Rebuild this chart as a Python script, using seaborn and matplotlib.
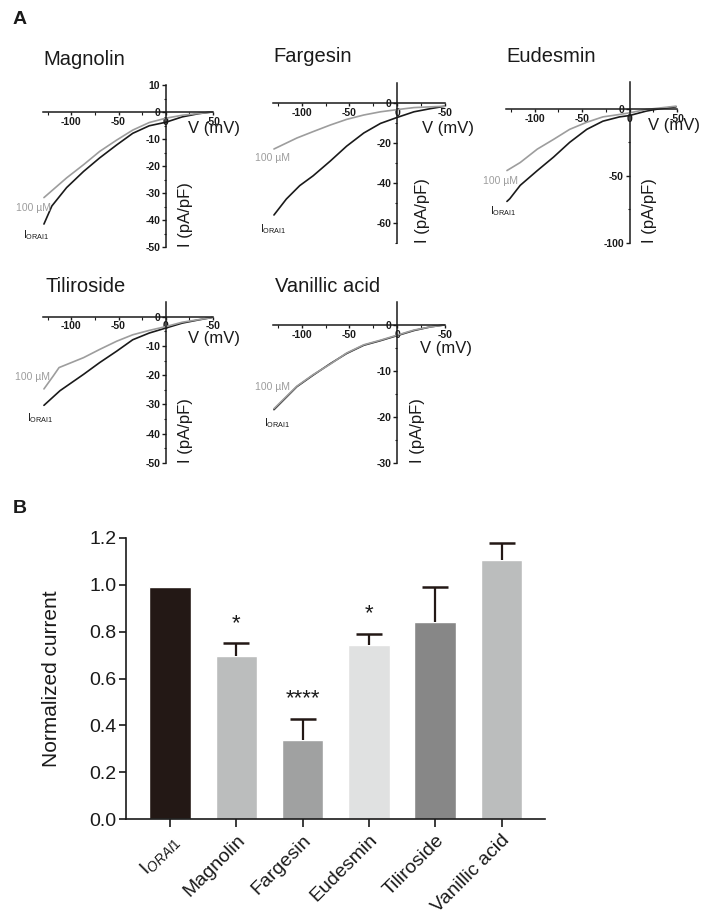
import numpy as np
import pandas as pd
import matplotlib
matplotlib.use('Agg')
import matplotlib.pyplot as plt
import matplotlib.transforms as mtransforms
from matplotlib.ticker import FixedLocator
import seaborn as sns

sns.set_style('ticks')
plt.rcParams['font.family'] = ['Liberation Sans', 'DejaVu Sans']
plt.rcParams['mathtext.fontset'] = 'custom'
plt.rcParams['mathtext.rm'] = 'Liberation Sans'
plt.rcParams['mathtext.it'] = 'Liberation Sans:italic'
plt.rcParams['mathtext.bf'] = 'Liberation Sans:bold'

# ---------------- data: panel A (I-V curves) ----------------
iv_xticks = [-100, -50, 0, 50]
iv_xticklabels = ['-100', '-50', '0', '-50']

mag_V_ctrl = [-129, -120.6, -105, -87, -70, -52, -35, -17.5, 0, 17.5, 35, 49]
mag_I_ctrl = [-41.5, -34.8, -28, -22, -17, -12.2, -7.9, -5.1, -3.8, -1.8, -0.6, 0]
mag_V_drug = [-129, -105, -87, -70, -52, -35, -17.5, 0, 17.5, 49]
mag_I_drug = [-31.7, -24.4, -19.5, -14.6, -10.4, -6.7, -3.9, -2.3, -1.2, 0]

far_V_ctrl = [-129, -116, -102, -88, -70, -53, -35, -17.5, 0, 17.5, 35, 50]
far_I_ctrl = [-56, -48, -41.3, -36.4, -29, -21.6, -15, -10.2, -7.2, -4.4, -2.8, -1.6]
far_V_drug = [-129, -105, -88, -70, -53, -35, -17.5, 0, 17.5, 50]
far_I_drug = [-23, -17.5, -14.3, -11, -8.2, -6, -4.4, -3.3, -2.3, -1.6]

eud_V_ctrl = [-129, -126, -115, -97, -80, -63, -45, -28, -10.5, 0, 17.5, 31, 49]
eud_I_ctrl = [-69, -67, -57, -46, -36, -25, -15.3, -9.2, -6, -5, -1.7, 0, 1.5]
eud_V_drug = [-129, -115, -97, -80, -63, -45, -28, -10.5, 0, 17.5, 49]
eud_I_drug = [-46, -40, -30, -22.8, -15.3, -10, -6, -4.2, -3, -0.5, 2]

til_V_ctrl = [-129, -112, -87, -70, -52, -35, -17.5, 0, 17.5, 35, 49]
til_I_ctrl = [-30.3, -25.3, -19.7, -15.7, -11.8, -7.9, -5.6, -3.9, -2.2, -1.1, -0.3]
til_V_drug = [-129, -119, -113, -87, -70, -52, -35, -17.5, 0, 17.5, 49]
til_I_drug = [-24.7, -20.2, -17.4, -14, -11.2, -8.4, -6.2, -4.7, -3.4, -1.9, -0.3]

van_V_ctrl = [-129, -105, -88, -70, -53, -35, -17.5, 0, 17.5, 35, 49]
van_I_ctrl = [-18.4, -13.4, -10.9, -8.4, -6.2, -4.4, -3.4, -2.3, -1.2, -0.4, 0]
van_V_drug = [-129, -105, -88, -70, -53, -35, -17.5, 0, 17.5, 35, 49]
van_I_drug = [-18.2, -13.3, -10.8, -8.5, -6.1, -4.3, -3.3, -2.2, -1.1, -0.4, 0]

iv_titles = ['Magnolin', 'Fargesin', 'Eudesmin', 'Tiliroside', 'Vanillic acid']
drug_label = '100 µM'
ctrl_label = r'I$_{\mathrm{ORAI1}}$'

# ---------------- data: panel B (bars) ----------------
bar_categories = [r'I$_{\mathit{ORAI1}}$', 'Magnolin', 'Fargesin', 'Eudesmin',
                  'Tiliroside', 'Vanillic acid']
bar_values = [0.99, 0.695, 0.338, 0.745, 0.843, 1.105]
bar_err_upper = [0.0, 0.055, 0.09, 0.047, 0.148, 0.075]
bar_stars = ['', '*', '****', '*', '', '']
bar_colors = ['#231815', '#BBBDBD', '#A0A1A1', '#E0E1E1', '#878787', '#BBBDBD']

# ---------------- figure ----------------
W, H = 703, 919
fig = plt.figure(figsize=(W / 100, H / 100), dpi=100)


def px_axes(x0, x1, ytop, ybot):
    return fig.add_axes([x0 / W, 1 - ybot / H, (x1 - x0) / W, (ybot - ytop) / H])


ink = '#1a1a1a'
gray = '#9d9d9d'


def iv_panel(rect, ylim, yticks, yminor, Vc, Ic, Vd, Id, title, title_xy,
             vlab_frac, vlab_dy, ilab_dx, drug_off, ctrl_off):
    ax = px_axes(*rect)
    sns.lineplot(x=Vc, y=Ic, ax=ax, color=ink, lw=1.2, sort=False, estimator=None)
    sns.lineplot(x=Vd, y=Id, ax=ax, color=gray, lw=1.2, sort=False, estimator=None)
    ax.set_xlim(-130, 50)
    ax.set_ylim(*ylim)
    ax.set_facecolor('none')
    for s in ['top', 'right']:
        ax.spines[s].set_visible(False)
    for s in ['left', 'bottom']:
        ax.spines[s].set_position(('data', 0))
        ax.spines[s].set_linewidth(1.1)
        ax.spines[s].set_color(ink)
    ax.set_xticks(iv_xticks)
    ax.set_xticklabels(iv_xticklabels, fontsize=7.5, fontweight='bold', color=ink)
    ax.set_yticks(yticks)
    ax.set_yticklabels([str(t) for t in yticks], fontsize=7.5, fontweight='bold', color=ink)
    ax.xaxis.set_minor_locator(FixedLocator([-125, -75, -25, 25]))
    ax.yaxis.set_minor_locator(FixedLocator(yminor))
    ax.tick_params(axis='x', which='major', length=2.5, width=1, pad=1, color=ink)
    ax.tick_params(axis='y', which='major', length=3, width=1, pad=1, color=ink)
    ax.tick_params(which='minor', length=1.8, width=0.8, color=ink)
    ax.set_xlabel('')
    ax.set_ylabel('')
    # curve labels
    ax.annotate(drug_label, xy=(Vd[0], Id[0]), xytext=drug_off, textcoords='offset pixels',
                ha='center', va='center', color=gray, fontsize=7.5)
    ax.annotate(ctrl_label, xy=(Vc[0], Ic[0]), xytext=ctrl_off, textcoords='offset pixels',
                ha='center', va='center', color=ink, fontsize=7.5)
    # axis labels
    trx = mtransforms.blended_transform_factory(ax.transAxes, ax.transData)
    ax.annotate('V (mV)', xy=(vlab_frac, 0), xycoords=trx, xytext=(0, -vlab_dy),
                textcoords='offset pixels', ha='left', va='center', fontsize=12, color=ink)
    tri = mtransforms.blended_transform_factory(ax.transData, ax.transAxes)
    ax.annotate('I (pA/pF)', xy=(0, 0), xycoords=tri, xytext=(ilab_dx, 0),
                textcoords='offset pixels', ha='center', va='bottom', rotation=90,
                fontsize=12, color=ink)
    fig.text(title_xy[0] / W, 1 - title_xy[1] / H, title, fontsize=14.5, color=ink,
             va='baseline', ha='left')
    return ax


iv_panel((43, 213, 85, 247), (-50, 10), [10, 0, -10, -20, -30, -40, -50],
         [5, -5, -15, -25, -35, -45], mag_V_ctrl, mag_I_ctrl, mag_V_drug, mag_I_drug,
         iv_titles[0], (43, 65), 0.853, 17, 20, (-10, -10), (-8, -11))
iv_panel((273, 445, 83, 243), (-70, 10), [0, -20, -40, -60],
         [-10, -30, -50, -70], far_V_ctrl, far_I_ctrl, far_V_drug, far_I_drug,
         iv_titles[1], (273, 62), 0.866, 26, 25, (-1, -9), (-1, -14))
iv_panel((506, 677, 82, 243), (-100, 20), [0, -50, -100],
         [-25, -75], eud_V_ctrl, eud_I_ctrl, eud_V_drug, eud_I_drug,
         iv_titles[2], (506, 62), 0.83, 17, 20, (-6, -10), (-4, -10))
iv_panel((43, 213, 302, 463), (-50, 5), [0, -10, -20, -30, -40, -50],
         [-5, -15, -25, -35, -45], til_V_ctrl, til_I_ctrl, til_V_drug, til_I_drug,
         iv_titles[3], (46, 292), 0.853, 22, 20, (-11, 12), (-4, -13))
iv_panel((273, 445, 302, 463), (-30, 5), [0, -10, -20, -30],
         [-5, -15, -25], van_V_ctrl, van_I_ctrl, van_V_drug, van_I_drug,
         iv_titles[4], (275, 292), 0.855, 24, 20, (-1, 22), (3, -13))

fig.text(13 / W, 1 - 24 / H, 'A', fontsize=14, fontweight='bold', color=ink, va='baseline')
fig.text(13 / W, 1 - 513 / H, 'B', fontsize=14, fontweight='bold', color=ink, va='baseline')

# ---------------- panel B ----------------
axb = px_axes(126, 545, 538, 819)
df = pd.DataFrame({'cond': bar_categories, 'val': bar_values})
sns.barplot(data=df, x='cond', y='val', hue='cond', order=bar_categories,
            palette=dict(zip(bar_categories, bar_colors)), saturation=1, width=0.626,
            errorbar=None, legend=False, ax=axb)
idx = np.arange(1, len(bar_values))
vals = np.array(bar_values)[idx]
tops = vals + np.array(bar_err_upper)[idx]
# vertical error lines (upper only) and top caps
axb.vlines(idx, vals, tops, color='#231815', lw=1.6, zorder=3)
axb.plot(idx, tops, ls='none', marker='_', markersize=19, mew=1.8,
         color='#231815', zorder=3)
for i, (v, e, s) in enumerate(zip(bar_values, bar_err_upper, bar_stars)):
    if s:
        axb.text(i, v + e + 0.062, s, ha='center', va='baseline', fontsize=16, color=ink)

axb.set_xlim(-0.664, 5.656)
axb.set_ylim(0, 1.2)
axb.set_yticks([0, 0.2, 0.4, 0.6, 0.8, 1.0, 1.2])
axb.set_yticklabels(['0.0', '0.2', '0.4', '0.6', '0.8', '1.0', '1.2'], fontsize=14, color=ink)
axb.set_xticks(range(len(bar_categories)))
axb.set_xticklabels(bar_categories, rotation=45, ha='right', rotation_mode='anchor',
                    fontsize=14, color=ink)
shift = mtransforms.ScaledTranslation(17 / 100, -2 / 100, fig.dpi_scale_trans)
for lab in axb.get_xticklabels():
    lab.set_transform(lab.get_transform() + shift)
for s in ['top', 'right']:
    axb.spines[s].set_visible(False)
for s in ['left', 'bottom']:
    axb.spines[s].set_linewidth(1.2)
    axb.spines[s].set_color(ink)
axb.tick_params(axis='y', length=5, width=1.2, pad=2, color=ink)
axb.tick_params(axis='x', length=6, width=1.2, pad=3, color=ink)
axb.set_xlabel('')
axb.set_ylabel('Normalized current', fontsize=15, color=ink)
axb.yaxis.set_label_coords((61 - 126) / 419, 0.5)

fig.savefig('out.png', dpi=100, facecolor='white')
